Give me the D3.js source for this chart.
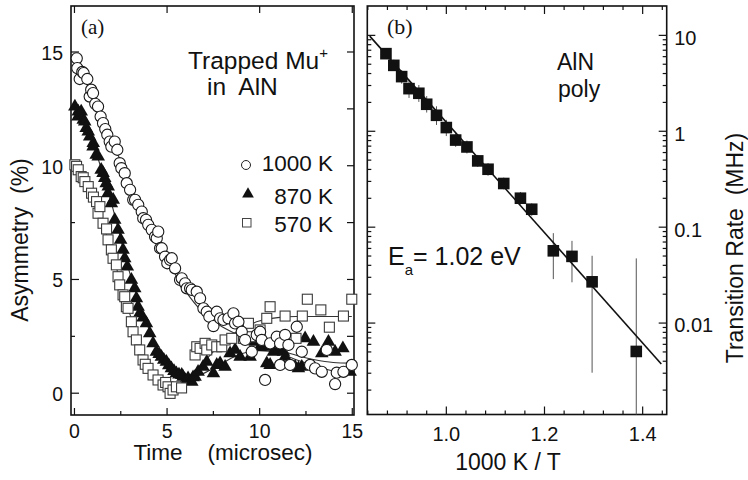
<!DOCTYPE html>
<html>
<head>
<meta charset="utf-8">
<script src="https://cdn.jsdelivr.net/npm/d3@7"></script>
<style>
body { margin: 0; background: #fff; }
svg text { font-family: "Liberation Sans", Arial, sans-serif; fill: #111; }
</style>
</head>
<body>
<div id="chart"></div>
<script>
"use strict";

// ---- panel (a): asymmetry vs time ----
const timeTicks = [0, 5, 10, 15];
const timeMinor = [2.5, 7.5, 12.5];
const asymTicks = [0, 5, 10, 15];
const asymMinor = [2.5, 7.5, 12.5];

const data1000K = [[0.15,14.7],[0.18,14.27],[0.31,13.79],[0.45,14.1],[0.52,14.05],[0.72,13.79],[0.85,13.02],[0.93,13.32],[1.03,13.17],[1.15,12.7],[1.30,12.58],[1.44,12.14],[1.57,11.85],[1.69,11.59],[1.80,11.34],[1.93,11.04],[2.02,10.82],[2.20,11.04],[2.34,10.68],[2.47,10.09],[2.56,9.87],[2.74,9.65],[2.85,9.21],[3.03,8.92],[3.20,8.48],[3.30,8.48],[3.47,8.26],[3.66,7.96],[3.74,7.67],[3.89,7.60],[4.01,7.38],[4.20,7.16],[4.38,6.86],[4.47,6.79],[4.55,7.08],[4.65,6.35],[4.74,6.35],[4.92,5.98],[5.04,5.69],[5.19,5.84],[5.28,5.91],[5.46,5.47],[5.73,4.96],[5.82,5.03],[6.00,4.81],[6.09,4.59],[6.27,4.59],[6.36,4.52],[6.63,4.44],[6.81,4.15],[6.99,3.71],[7.17,3.56],[7.31,3.34],[7.53,2.93],[7.71,3.56],[7.89,3.27],[8.07,3.20],[8.34,3.27],[8.61,3.49],[8.70,3.05],[8.88,3.12],[9.06,2.68],[9.24,2.32],[9.60,1.80],[9.87,2.54],[10.05,2.68],[10.14,2.32],[10.32,0.56],[10.59,2.17],[10.95,2.46],[11.13,2.17],[11.13,1.22],[11.40,2.54],[11.58,2.10],[11.67,1.22],[12.03,2.90],[12.30,1.80],[12.75,1.22],[13.02,1.07],[13.38,0.92],[13.65,1.88],[14.10,0.38],[14.19,0.88],[14.55,0.92],[15.00,1.22]];

const data870K = [[0.05,12.58],[0.22,12.14],[0.23,12.36],[0.39,12.36],[0.50,12.0],[0.58,11.92],[0.66,11.63],[0.77,11.48],[0.85,11.26],[1.03,10.82],[1.04,10.97],[1.20,10.46],[1.31,10.38],[1.47,9.80],[1.57,9.65],[1.66,9.43],[1.74,9.21],[1.84,8.77],[1.85,9.06],[2.02,8.33],[2.12,8.48],[2.20,7.60],[2.38,7.16],[2.52,6.72],[2.65,6.28],[2.74,5.91],[2.88,5.54],[3.10,4.96],[3.28,4.59],[3.37,4.15],[3.46,3.78],[3.55,3.49],[3.73,3.30],[3.91,3.05],[4.09,2.61],[4.27,2.17],[4.45,1.80],[4.60,1.70],[4.72,1.58],[4.85,1.45],[4.99,1.36],[5.12,1.20],[5.26,1.07],[5.40,0.95],[5.53,0.85],[5.67,0.80],[5.82,0.78],[5.89,0.70],[6.02,0.55],[6.16,0.63],[6.36,0.48],[6.43,0.68],[6.54,0.70],[6.70,0.92],[6.97,1.14],[7.17,1.36],[7.53,0.85],[7.71,1.22],[7.89,1.29],[8.16,1.14],[8.43,1.73],[8.70,1.88],[8.97,1.58],[9.51,1.58],[9.78,2.24],[10.05,2.02],[10.32,2.02],[10.41,1.29],[10.59,1.22],[10.77,1.80],[11.04,1.88],[11.31,1.80],[11.40,1.58],[11.94,1.14],[12.12,1.07],[12.30,1.14],[12.48,2.39],[12.93,2.24],[13.38,1.73],[13.74,2.24],[14.10,1.80],[14.52,1.95],[14.91,0.92]];

const data570K = [[0.05,10.02],[0.14,9.95],[0.23,9.80],[0.39,9.50],[0.50,9.45],[0.59,9.28],[0.77,9.06],[0.95,8.77],[1.05,8.60],[1.22,8.40],[1.30,7.89],[1.40,8.18],[1.57,7.45],[1.76,7.20],[1.84,6.72],[2.02,6.28],[2.11,5.91],[2.29,5.62],[2.38,5.10],[2.47,4.74],[2.65,4.30],[2.74,4.22],[2.83,3.78],[2.92,3.71],[3.10,3.12],[3.19,2.68],[3.37,2.32],[3.55,1.88],[3.73,1.44],[3.85,1.25],[4.00,1.07],[4.27,0.78],[4.54,0.56],[4.81,0.34],[4.95,0.45],[5.08,0.26],[5.19,-0.03],[5.35,0.12],[5.53,0.26],[5.81,0.21],[6.54,1.66],[6.63,2.02],[6.81,1.95],[7.08,2.17],[7.17,1.88],[7.44,2.10],[7.71,2.02],[7.98,2.02],[8.16,2.32],[8.52,2.39],[9.15,2.39],[9.42,3.05],[9.51,2.46],[10.05,2.76],[10.41,3.27],[10.59,3.78],[11.40,3.37],[11.99,2.39],[12.33,3.37],[12.60,4.11],[13.33,3.64],[13.79,2.88],[14.55,3.37],[15.00,4.11]];

// fitted curves
const fit1000K = [[0,14.3],[1,13.2],[2,11.3],[3,9.1],[4,7.4],[5,5.9],[6,4.5],[7,3.5],[8,2.9],[9,2.5],[10,2.15],[11,1.9],[12,1.65],[13,1.45],[14,1.33],[15,1.3]];
const fit870K = [[0,12.6],[1,11.0],[2,8.4],[3,5.3],[4,2.9],[5,1.3],[6,0.65],[7,0.85],[8,1.3],[9,1.7],[10,1.85],[11,1.75],[12,1.45],[13,1.2],[14,0.95],[15,0.82]];
const fit570K = [[0,10.0],[1,8.7],[2,6.3],[3,3.5],[4,1.3],[5,0.2],[6,0.6],[7,1.35],[8,2.2],[9,2.8],[10,3.15],[11,3.3],[12,3.35],[13,3.35],[14,3.35],[15,3.35]];

const legendLabels = ["1000 K", "870 K", "570 K"];

// ---- panel (b): transition rate vs 1000/T ----
const invTemp = [0.878,0.894,0.910,0.925,0.945,0.961,0.981,1.001,1.020,1.043,1.065,1.086,1.118,1.152,1.175,1.219,1.257,1.298,1.388];
const rate = [6.37,4.81,3.67,2.75,2.46,1.89,1.45,1.08,0.80,0.678,0.485,0.397,0.282,0.198,0.152,0.056,0.049,0.0266,0.0050];
const rateLow = [5.6,4.2,3.1,2.2,2.0,1.55,1.15,0.88,0.68,0.58,0.42,0.34,0.245,0.17,0.13,0.0284,0.0263,0.003,0.0008];
const rateHigh = [7.2,5.5,4.3,3.4,3.0,2.3,1.8,1.3,0.94,0.79,0.56,0.46,0.325,0.23,0.175,0.0856,0.0711,0.0497,0.0467];
const arrheniusFit = [[0.845,9.7],[1.439,0.0037]];
const invTempTicks = [1.0, 1.2, 1.4];
const invTempLabels = ["1.0", "1.2", "1.4"];
const rateTicks = [0.01, 0.1, 1, 10];
const rateLabels = ["0.01", "0.1", "1", "10"];

const W = 748, H = 480;
const svg = d3.select("#chart").append("svg")
    .attr("width", W).attr("height", H)
    .style("background", "#fff");

// scales
const xA = d3.scaleLinear().domain([-0.16, 15.12]).range([71, 354]);
const yA = d3.scaleLinear().domain([-0.98, 17.0]).range([415, 6]);
const xB = d3.scaleLinear().domain([0.84, 1.45]).range([367.3, 666.7]);
const yB = d3.scaleLog().domain([0.0011, 20]).range([414.5, 6]);

function tickGroup(axis, transform) {
    const g = svg.append("g").attr("transform", transform).call(axis);
    g.select(".domain").remove();
    g.selectAll(".tick line").attr("stroke", "#111").attr("stroke-width", 1.2);
    return g;
}

// ---------- panel (a) ----------
tickGroup(d3.axisBottom(xA).tickValues(timeMinor).tickSize(-4).tickFormat(""), "translate(0,415)");
tickGroup(d3.axisBottom(xA).tickValues(timeTicks).tickSize(-7).tickPadding(9).tickFormat(d3.format("d")), "translate(0,415)")
    .selectAll("text").attr("font-size", 19.5).attr("fill", "#111");
tickGroup(d3.axisTop(xA).tickValues(timeTicks).tickSize(-7).tickFormat(""), "translate(0,6)");
tickGroup(d3.axisLeft(yA).tickValues(asymMinor).tickSize(-4).tickFormat(""), "translate(71,0)");
tickGroup(d3.axisLeft(yA).tickValues(asymTicks).tickSize(-8).tickPadding(8).tickFormat(d3.format("d")), "translate(71,0)")
    .selectAll("text").attr("font-size", 19.5).attr("dy", "0.4em").attr("fill", "#111");
tickGroup(d3.axisRight(yA).tickValues(asymTicks.concat(asymMinor)).tickSize(-7).tickFormat(""), "translate(354,0)");

svg.append("rect")
    .attr("x", 71).attr("y", 6).attr("width", 354 - 71).attr("height", 415 - 6)
    .attr("fill", "none").attr("stroke", "#111").attr("stroke-width", 1.6);

const fitLineA = d3.line().x(d => xA(d[0])).y(d => yA(d[1])).curve(d3.curveMonotoneX);
[fit1000K, fit870K, fit570K].forEach(f => {
    svg.append("path").attr("d", fitLineA(f))
        .attr("fill", "none").attr("stroke", "#333").attr("stroke-width", 1.1);
});

const tri = d3.symbol().type(d3.symbolTriangle).size(80);
const triSmall = d3.symbol().type(d3.symbolTriangle).size(60);

svg.append("g").selectAll("path").data(data870K).join("path")
    .attr("d", tri)
    .attr("transform", d => `translate(${xA(d[0])},${yA(d[1])})`)
    .attr("fill", "#111");

svg.append("g").selectAll("rect").data(data570K).join("rect")
    .attr("x", d => xA(d[0]) - 5).attr("y", d => yA(d[1]) - 5)
    .attr("width", 10).attr("height", 10)
    .attr("fill", "#fff").attr("stroke", "#3a3a3a").attr("stroke-width", 1.1);

svg.append("g").selectAll("circle").data(data1000K).join("circle")
    .attr("cx", d => xA(d[0])).attr("cy", d => yA(d[1])).attr("r", 5.6)
    .attr("fill", "#fff").attr("stroke", "#1a1a1a").attr("stroke-width", 1.1);

// legend
svg.append("circle").attr("cx", 246).attr("cy", 165).attr("r", 4.5)
    .attr("fill", "#fff").attr("stroke", "#222").attr("stroke-width", 1);
svg.append("path").attr("d", triSmall).attr("transform", "translate(248,194)").attr("fill", "#111");
svg.append("rect").attr("x", 242.5).attr("y", 218.5).attr("width", 8.5).attr("height", 8.5)
    .attr("fill", "#fff").attr("stroke", "#444").attr("stroke-width", 1);
svg.selectAll(".legtext").data(legendLabels).join("text")
    .attr("class", "legtext")
    .attr("x", 333).attr("y", (d, i) => [171, 203.5, 232][i])
    .attr("text-anchor", "end").attr("font-size", 22.5)
    .text(d => d);

svg.append("text").attr("x", 81).attr("y", 34)
    .style("font-family", "'Liberation Serif', 'Times New Roman', serif")
    .attr("font-size", 21).text("(a)");

const trapped = svg.append("text").attr("x", 188).attr("y", 68.5).attr("font-size", 24.5);
trapped.append("tspan").text("Trapped Mu");
trapped.append("tspan").attr("dy", -11).attr("font-size", 15).text("+");
svg.append("text").attr("x", 207).attr("y", 95).attr("font-size", 24.5)
    .style("white-space", "pre").text("in  AlN");

svg.append("text")
    .attr("transform", "translate(28,240) rotate(-90)")
    .attr("text-anchor", "middle").attr("font-size", 23)
    .style("white-space", "pre").text("Asymmetry  (%)");

svg.append("text").attr("x", 223).attr("y", 460)
    .attr("text-anchor", "middle").attr("font-size", 22.5)
    .style("white-space", "pre").text("Time    (microsec)");

// ---------- panel (b) ----------
const invMinor = d3.range(0.84, 1.449, 0.04).map(v => +v.toFixed(2))
    .filter(v => !invTempTicks.some(t => Math.abs(t - v) < 1e-6));
const rateMinor = [];
[0.001, 0.01, 0.1, 1, 10].forEach(dec => {
    for (let k = 2; k <= 9; k++) {
        const v = dec * k;
        if (v > 0.0011 && v < 20) rateMinor.push(v);
    }
});

tickGroup(d3.axisBottom(xB).tickValues(invMinor).tickSize(-4).tickFormat(""), "translate(0,414.5)");
tickGroup(d3.axisBottom(xB).tickValues(invTempTicks).tickSize(-8).tickPadding(12)
    .tickFormat((d, i) => invTempLabels[i]), "translate(0,414.5)")
    .selectAll("text").attr("font-size", 20).attr("fill", "#111");
tickGroup(d3.axisTop(xB).tickValues(invMinor).tickSize(-4).tickFormat(""), "translate(0,6)");
tickGroup(d3.axisTop(xB).tickValues(invTempTicks).tickSize(-8).tickFormat(""), "translate(0,6)");

tickGroup(d3.axisLeft(yB).tickValues(rateMinor).tickSize(-4).tickFormat(""), "translate(367.3,0)");
tickGroup(d3.axisLeft(yB).tickValues(rateTicks).tickSize(-8).tickFormat(""), "translate(367.3,0)");
tickGroup(d3.axisRight(yB).tickValues(rateMinor).tickSize(-4).tickFormat(""), "translate(666.7,0)");
tickGroup(d3.axisRight(yB).tickValues(rateTicks).tickSize(-8).tickPadding(7.5)
    .tickFormat((d, i) => rateLabels[i]), "translate(666.7,0)")
    .selectAll("text").attr("font-size", 20).attr("dy", "0.47em").attr("fill", "#111");

svg.append("rect")
    .attr("x", 367.3).attr("y", 6).attr("width", 666.7 - 367.3).attr("height", 414.5 - 6)
    .attr("fill", "none").attr("stroke", "#111").attr("stroke-width", 1.6);

svg.append("clipPath").attr("id", "clipB").append("rect")
    .attr("x", 367.3).attr("y", 6).attr("width", 666.7 - 367.3).attr("height", 414.5 - 6);

const gB = svg.append("g").attr("clip-path", "url(#clipB)");

const pointsB = invTemp.map((x, i) => ({ x: x, y: rate[i], lo: rateLow[i], hi: rateHigh[i] }));

gB.selectAll(".err").data(pointsB).join("line")
    .attr("class", "err")
    .attr("x1", d => xB(d.x)).attr("x2", d => xB(d.x))
    .attr("y1", d => yB(d.lo)).attr("y2", d => yB(d.hi))
    .attr("stroke", "#555").attr("stroke-width", 1);

gB.append("path")
    .attr("d", d3.line().x(d => xB(d[0])).y(d => yB(d[1]))(arrheniusFit))
    .attr("fill", "none").attr("stroke", "#111").attr("stroke-width", 1.6);

gB.selectAll(".pt").data(pointsB).join("rect")
    .attr("class", "pt")
    .attr("x", d => xB(d.x) - 5.8).attr("y", d => yB(d.y) - 5.8)
    .attr("width", 11.6).attr("height", 11.6)
    .attr("fill", "#111");

svg.append("text").attr("x", 387).attr("y", 34)
    .style("font-family", "'Liberation Serif', 'Times New Roman', serif")
    .attr("font-size", 22).text("(b)");

svg.append("text").attr("x", 557).attr("y", 70).attr("font-size", 23).text("AlN");
svg.append("text").attr("x", 558).attr("y", 97).attr("font-size", 23).text("poly");

const ea = svg.append("text").attr("x", 388).attr("y", 265).attr("font-size", 25);
ea.append("tspan").text("E");
ea.append("tspan").attr("dy", 10).attr("font-size", 15).text("a");
ea.append("tspan").attr("dy", -10).style("white-space", "pre").text("= 1.02 eV");

svg.append("text").attr("x", 508).attr("y", 470)
    .attr("text-anchor", "middle").attr("font-size", 23)
    .text("1000 K / T");

svg.append("text")
    .attr("transform", "translate(743,248) rotate(-90)")
    .attr("text-anchor", "middle").attr("font-size", 23)
    .style("white-space", "pre").text("Transition Rate  (MHz)");
</script>
</body>
</html>
